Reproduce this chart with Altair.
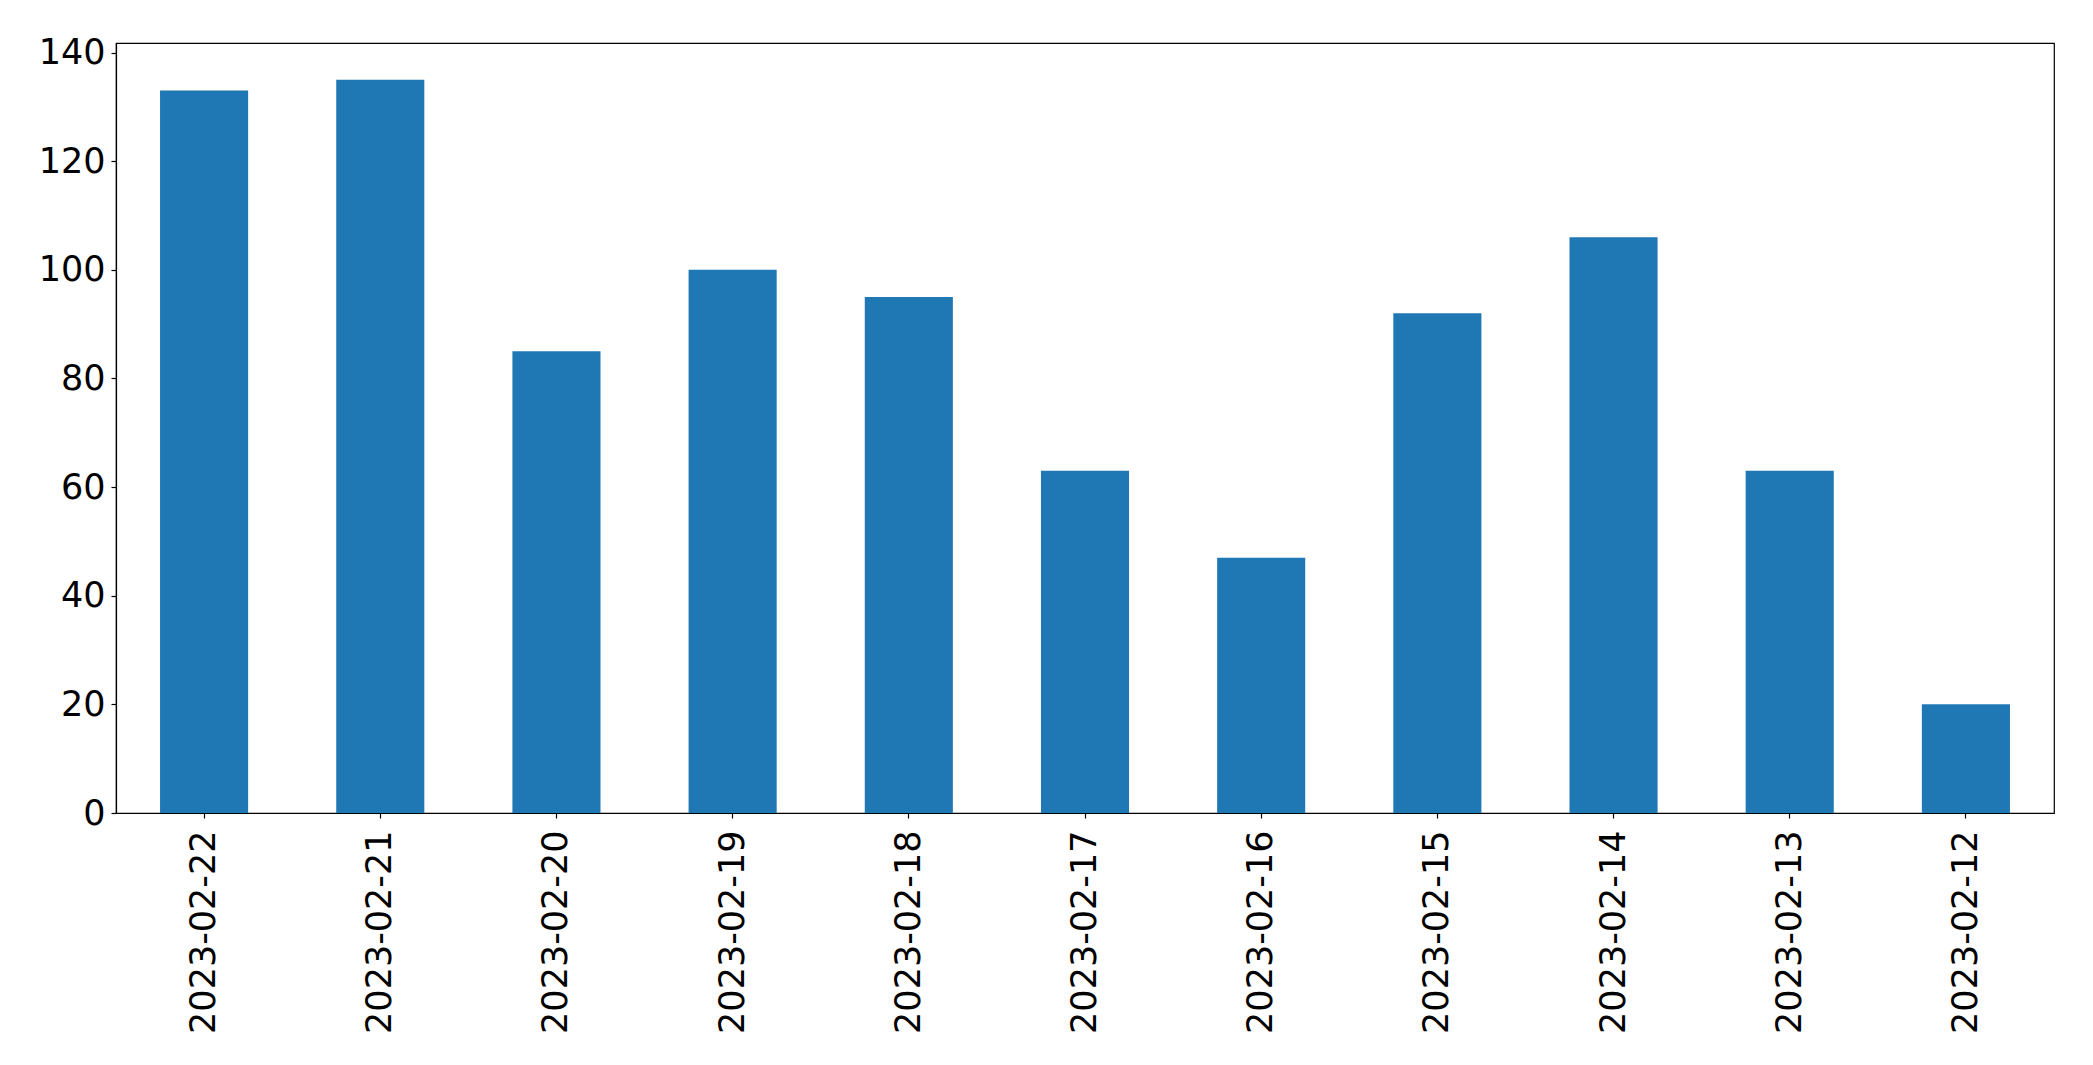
import altair as alt
import pandas as pd

dates = ["2023-02-22", "2023-02-21", "2023-02-20", "2023-02-19", "2023-02-18",
         "2023-02-17", "2023-02-16", "2023-02-15", "2023-02-14", "2023-02-13",
         "2023-02-12"]
counts = [133, 135, 85, 100, 95, 63, 47, 92, 106, 63, 20]
y_ticks = [0, 20, 40, 60, 80, 100, 120, 140]

df = pd.DataFrame({"date": dates, "count": counts})

chart = alt.Chart(df).mark_bar(color="#1f77b4").encode(
    x=alt.X("date:N", sort=None, title=None,
            scale=alt.Scale(paddingInner=0.5, paddingOuter=0.25),
            axis=alt.Axis(labelAngle=270, labelFontSize=35, labelFont="DejaVu Sans",
                          labelColor="black", tickColor="black", domainColor="black",
                          tickSize=5, labelPadding=12, labelLimit=0,
                          domainWidth=1.2, tickWidth=1.2)),
    y=alt.Y("count:Q", title=None,
            scale=alt.Scale(domain=[0, 141.75], nice=False, zero=True),
            axis=alt.Axis(values=y_ticks, labelFontSize=35, labelFont="DejaVu Sans",
                          labelColor="black", tickColor="black", domainColor="black",
                          tickSize=5, labelPadding=6, grid=False,
                          domainWidth=1.2, tickWidth=1.2)),
).properties(
    width=1938, height=770,
    autosize=alt.AutoSizeParams(type="none"),
    padding={"left": 108, "top": 35, "right": 30, "bottom": 240},
).configure_view(
    stroke="black", strokeWidth=1.2
).configure_axis(grid=False)

chart.save("out.html", embed_options={"renderer": "svg", "actions": False})
